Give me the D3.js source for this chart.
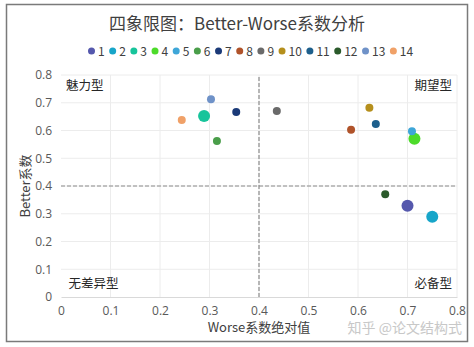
<!DOCTYPE html>
<html>
<head>
<meta charset="utf-8">
<script src="https://cdn.jsdelivr.net/npm/d3@7"></script>
<style>
  body { margin: 0; background: #fff; }
  svg { display: block; font-family: "Noto Sans CJK SC", "Open Sans", sans-serif; }
</style>
</head>
<body>
<div id="chart"></div>
<script>
// Data
var names = ["1", "2", "3", "4", "5", "6", "7", "8", "9", "10", "11", "12", "13", "14"];
var worse = [0.700, 0.750, 0.289, 0.714, 0.709, 0.315, 0.354, 0.586, 0.436, 0.623, 0.636, 0.655, 0.303, 0.244];
var better = [0.329, 0.289, 0.652, 0.570, 0.597, 0.562, 0.667, 0.603, 0.670, 0.682, 0.623, 0.370, 0.713, 0.638];
var sizes = [6, 6, 6, 6, 4, 4, 4, 4, 4, 4, 4, 4, 4, 4];
var colours = ["#5558ad", "#17a5c9", "#17c49b", "#4ddb2a", "#3ea6d8", "#4a9e4a", "#1b3a78",
               "#b0532a", "#6a6a6a", "#b58f1c", "#1d5f8c", "#2b5a2b", "#6f92c8", "#f0a168"];
var xTicks = [0, 0.1, 0.2, 0.3, 0.4, 0.5, 0.6, 0.7, 0.8];
var yTicks = [0, 0.1, 0.2, 0.3, 0.4, 0.5, 0.6, 0.7, 0.8];
var quadrants = [
  { text: "魅力型", x: 0.01, y: 0.745, anchor: "start" },
  { text: "期望型", x: 0.79, y: 0.745, anchor: "end" },
  { text: "无差异型", x: 0.015, y: 0.032, anchor: "start" },
  { text: "必备型", x: 0.79, y: 0.032, anchor: "end" }
];

var w = 474, h = 347;
var svg = d3.select("#chart").append("svg")
  .attr("width", w)
  .attr("height", h);

// outer frame
svg.append("rect")
  .attr("x", 6.5).attr("y", 4.5)
  .attr("width", 461).attr("height", 337)
  .attr("fill", "#fff")
  .attr("stroke", "#7a7a7a")
  .attr("stroke-width", 1.5);

var x = d3.scaleLinear().domain([0, 0.8]).range([61, 457]);
var y = d3.scaleLinear().domain([0, 0.8]).range([297, 75]);

// title
svg.append("text")
  .attr("x", 237).attr("y", 30)
  .attr("text-anchor", "middle")
  .style("font-size", "17px")
  .style("fill", "#404040")
  .text("四象限图：Better-Worse系数分析");

// legend
var legend = svg.append("g");
var lx = 88;
names.forEach(function (n, i) {
  legend.append("circle")
    .attr("cx", lx + 3.5).attr("cy", 51).attr("r", 3.5)
    .attr("fill", colours[i]);
  var t = legend.append("text")
    .attr("x", lx + 10).attr("y", 55.5)
    .style("font-size", "12px")
    .style("fill", "#404040")
    .text(n);
  lx += 10 + t.node().getComputedTextLength() + 4.5;
});

// gridlines
svg.append("g").selectAll("line.gx")
  .data(xTicks.slice(1))
  .enter().append("line")
  .attr("x1", function (d) { return x(d); })
  .attr("x2", function (d) { return x(d); })
  .attr("y1", y(0)).attr("y2", y(0.8))
  .attr("stroke", "#ececec");
svg.append("g").selectAll("line.gy")
  .data(yTicks.slice(1))
  .enter().append("line")
  .attr("x1", x(0)).attr("x2", x(0.8))
  .attr("y1", function (d) { return y(d); })
  .attr("y2", function (d) { return y(d); })
  .attr("stroke", "#ececec");

// axes
var xAxis = svg.append("g")
  .attr("transform", "translate(0," + y(0) + ")")
  .call(d3.axisBottom(x).tickValues(xTicks).tickSize(0).tickPadding(9)
    .tickFormat(function (d) { return d === 0 ? "0" : d3.format(".1f")(d); }));
var yAxis = svg.append("g")
  .attr("transform", "translate(" + x(0) + ",0)")
  .call(d3.axisLeft(y).tickValues(yTicks).tickSize(0).tickPadding(9)
    .tickFormat(function (d) { return d === 0 ? "0" : d3.format(".1f")(d); }));
[xAxis, yAxis].forEach(function (a) {
  a.select(".domain").attr("stroke", "#d9d9d9");
  a.selectAll("text")
    .style("font-size", "12px")
    .style("fill", "#595959")
    .style("font-family", "\"Open Sans\", sans-serif");
});
yAxis.select(".domain").remove();

// dashed quadrant lines
svg.append("line")
  .attr("x1", x(0.4)).attr("x2", x(0.4))
  .attr("y1", y(0)).attr("y2", y(0.8))
  .attr("stroke", "#8c8c8c").attr("stroke-width", 1.2)
  .attr("stroke-dasharray", "4,2");
svg.append("line")
  .attr("x1", x(0)).attr("x2", x(0.8))
  .attr("y1", y(0.4)).attr("y2", y(0.4))
  .attr("stroke", "#8c8c8c").attr("stroke-width", 1.2)
  .attr("stroke-dasharray", "4,2");

// quadrant labels
svg.append("g").selectAll("text")
  .data(quadrants)
  .enter().append("text")
  .attr("x", function (d) { return x(d.x); })
  .attr("y", function (d) { return y(d.y); })
  .attr("text-anchor", function (d) { return d.anchor; })
  .style("font-size", "12.5px")
  .style("fill", "#262626")
  .text(function (d) { return d.text; });

// points
svg.append("g").selectAll("circle")
  .data(names)
  .enter().append("circle")
  .attr("cx", function (d, i) { return x(worse[i]); })
  .attr("cy", function (d, i) { return y(better[i]); })
  .attr("r", function (d, i) { return sizes[i]; })
  .attr("fill", function (d, i) { return colours[i]; });

// axis titles
svg.append("text")
  .attr("x", 259).attr("y", 332)
  .attr("text-anchor", "middle")
  .style("font-size", "13px")
  .style("fill", "#404040")
  .text("Worse系数绝对值");
svg.append("text")
  .attr("transform", "translate(30,186) rotate(-90)")
  .attr("text-anchor", "middle")
  .style("font-size", "13px")
  .style("fill", "#404040")
  .text("Better系数");

// watermark
svg.append("text")
  .attr("x", 462).attr("y", 333)
  .attr("text-anchor", "end")
  .style("font-size", "14px")
  .style("fill", "#c8c8c8")
  .text("知乎 @论文结构式");
</script>
</body>
</html>
